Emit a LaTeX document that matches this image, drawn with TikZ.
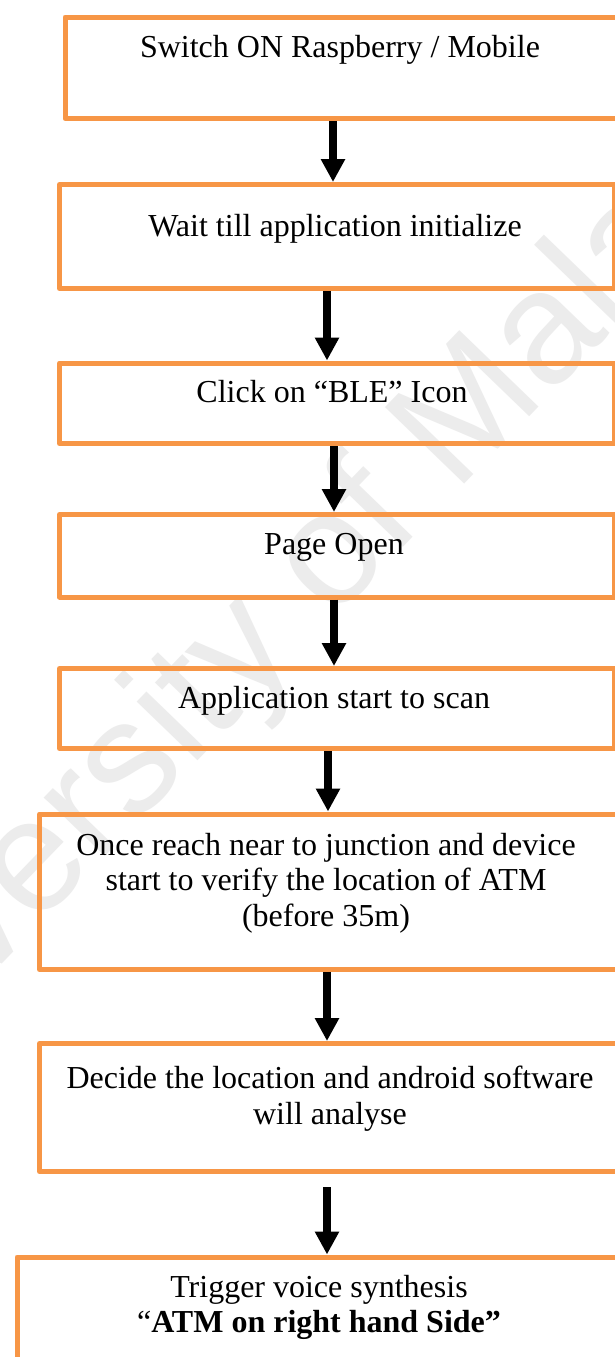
\documentclass[tikz,border=0pt]{standalone}
\usepackage{fontspec}
\setmainfont{Liberation Serif}
\newfontfamily\wmfont{Liberation Sans}
\usetikzlibrary{arrows.meta}
\definecolor{boxorange}{HTML}{F79646}
\definecolor{wmgray}{RGB}{236,236,236}

\begin{document}
\begin{tikzpicture}[x=1pt,y=-1pt,
  stepbox/.style={draw=boxorange, line width=5pt, line join=round,
    inner sep=0pt, outer sep=2.5pt, anchor=north west},
  steptext/.style={anchor=north, align=center, inner sep=0pt,
    font=\fontsize{32}{35.5}\selectfont},
  flow/.style={line width=8pt, draw=black,
    -{Triangle[width=23pt,length=23pt]}},
  watermark/.style={font=\wmfont\fontsize{160}{160}\selectfont,
    text=wmgray, rotate=46, inner sep=0pt}]
\useasboundingbox (0,0) rectangle (614,1357);
\fill[white] (0,0) rectangle (614,1357);

% background watermark
\node[watermark] (wm) at (284,612) {University of Malaya};

% process boxes
\node[stepbox, minimum width=577.5pt, minimum height=101.5pt] (b1) at (62.5,14.5) {};
\node[stepbox, minimum width=554.5pt, minimum height=104pt]   (b2) at (57,182) {};
\node[stepbox, minimum width=554.5pt, minimum height=80.5pt]  (b3) at (57,360.5) {};
\node[stepbox, minimum width=554.5pt, minimum height=82.5pt]  (b4) at (57,512) {};
\node[stepbox, minimum width=554.5pt, minimum height=80pt]    (b5) at (57,666) {};
\node[stepbox, minimum width=603pt,   minimum height=155.5pt] (b6) at (37,811.5) {};
\node[stepbox, minimum width=603pt,   minimum height=128pt]   (b7) at (37,1041) {};
\node[stepbox, minimum width=625.5pt, minimum height=150pt]   (b8) at (14.5,1254.5) {};

% box texts
\node[steptext] (t1) at (340,35)   {Switch ON Raspberry / Mobile};
\node[steptext] (t2) at (335,214)  {Wait till application initialize};
\node[steptext] (t3) at (332,380)  {Click on “BLE” Icon};
\node[steptext] (t4) at (334,533)  {Page Open};
\node[steptext] (t5) at (334,686)  {Application start to scan};
\node[steptext] (t6) at (326,833)  {Once reach near to junction and device\\start to verify the location of ATM\\(before 35m)};
\node[steptext] (t7) at (330,1066) {Decide the location and android software\\will analyse};
\node[steptext] (t8) at (319,1275) {Trigger voice synthesis\\“\textbf{ATM on right hand Side”}};

% flow arrows
\draw[flow] (b1.south -| 333,0) -- (b2.north -| 333,0);
\draw[flow] (b2.south -| 327,0) -- (b3.north -| 327,0);
\draw[flow] (b3.south -| 334,0) -- (b4.north -| 334,0);
\draw[flow] (b4.south -| 334,0) -- (b5.north -| 334,0);
\draw[flow] (b5.south -| 328,0) -- (b6.north -| 328,0);
\draw[flow] (b6.south -| 327,0) -- (b7.north -| 327,0);
\path (b7.south -| 327,0) ++(0,13) coordinate (a7s);
\draw[flow] (a7s) -- (b8.north -| 327,0);
\end{tikzpicture}
\end{document}
